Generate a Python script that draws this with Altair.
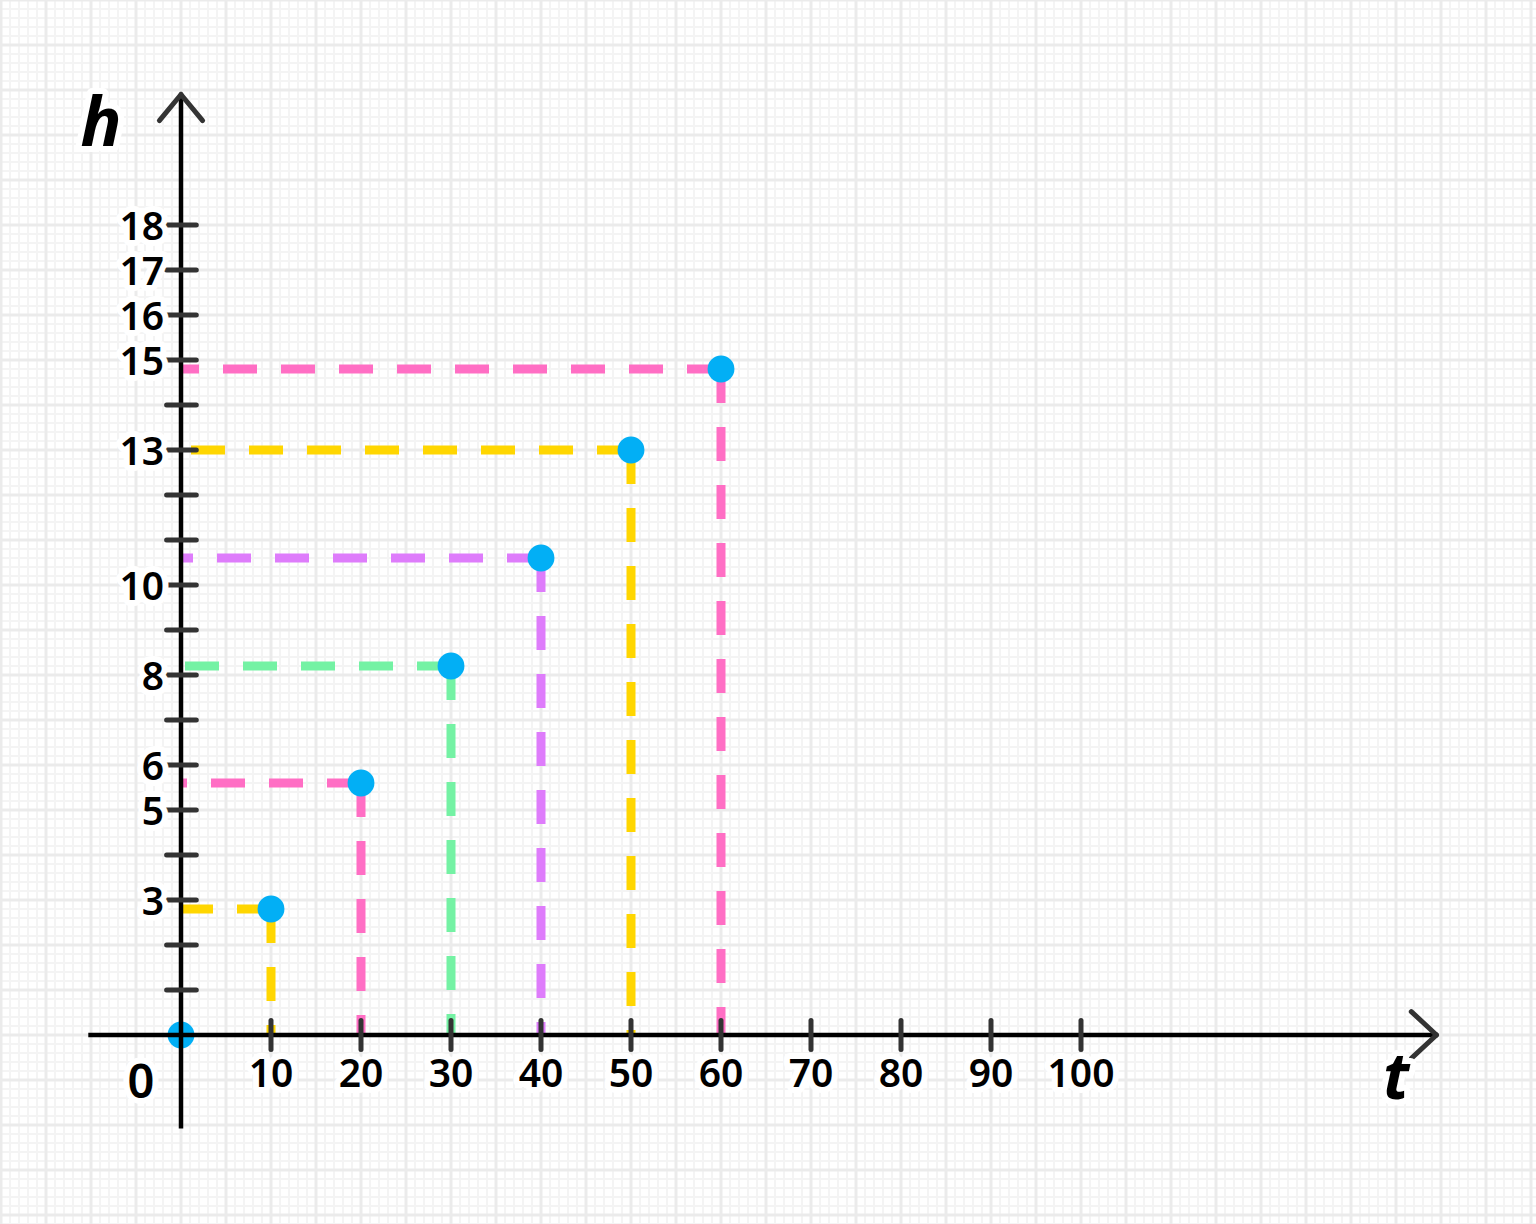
import altair as alt
import pandas as pd
import numpy as np

# ---- data ----
t_vals = [0, 10, 20, 30, 40, 50, 60]
h_vals = [0, 2.8, 5.6, 8.2, 10.6, 13.0, 14.8]
guide_colors = ["", "#FFD600", "#FF6EC4", "#74F2A4", "#DE7CFB", "#FFD600", "#FF6EC4"]

x_tick_vals = [10, 20, 30, 40, 50, 60, 70, 80, 90, 100]
x_tick_labels = ["10", "20", "30", "40", "50", "60", "70", "80", "90", "100"]
y_tick_vals = list(range(1, 19))
y_label_vals = [3, 5, 6, 8, 10, 13, 15, 16, 17, 18]
y_label_text = ["3", "5", "6", "8", "10", "13", "15", "16", "17", "18"]

# axis extents (data units)
t_axis_start, t_axis_end = -10.3, 139.5
h_axis_start, h_axis_end = -2.08, 20.9

W, H = 1536, 1224
x_dom = [-181 / 9, (W - 181) / 9]
y_dom = [(1035 - H) / 45, 1035 / 45]
xs = alt.Scale(domain=x_dom, nice=False, zero=False)
ys = alt.Scale(domain=y_dom, nice=False, zero=False)

def X(f, **kw):
    return alt.X(f, type="quantitative", scale=xs, axis=None, **kw)

def Y(f, **kw):
    return alt.Y(f, type="quantitative", scale=ys, axis=None, **kw)

# ---- background graph paper ----
maj_t = np.arange(-20, 155, 5)
min_t = [v for v in np.arange(-20, 151, 1) if v % 5 != 0]
maj_h = np.arange(-4, 24, 1)
min_h = [round(v, 2) for v in np.arange(-4.2, 23.01, 0.2) if abs(v - round(v)) > 1e-6]

g_min_v = alt.Chart(pd.DataFrame({"t": min_t})).mark_rule(color="#f4f4f4", strokeWidth=2).encode(x=X("t"))
g_min_h = alt.Chart(pd.DataFrame({"h": min_h})).mark_rule(color="#f4f4f4", strokeWidth=2).encode(y=Y("h"))
g_maj_v = alt.Chart(pd.DataFrame({"t": maj_t})).mark_rule(color="#ebebeb", strokeWidth=3).encode(x=X("t"))
g_maj_h = alt.Chart(pd.DataFrame({"h": maj_h})).mark_rule(color="#ebebeb", strokeWidth=3).encode(y=Y("h"))

# ---- dashed guide lines ----
pts = pd.DataFrame({"t": t_vals, "h": h_vals, "c": guide_colors})
guides = pts[pts["c"] != ""].copy()
guides["zero"] = 0.0

dash_kw = dict(strokeWidth=9, strokeDash=[34, 24], strokeCap="butt")
hor = alt.Chart(guides).mark_rule(**dash_kw).encode(
    x=X("t"), x2="zero", y=Y("h"), y2="h", color=alt.Color("c:N", scale=None)
)
ver = alt.Chart(guides).mark_rule(**dash_kw).encode(
    x=X("t"), x2="t", y=Y("h"), y2="zero", color=alt.Color("c:N", scale=None)
)

points = alt.Chart(pts).mark_point(filled=True, shape="circle", size=720, color="#02AFF5", opacity=1).encode(
    x=X("t"), y=Y("h")
)

# ---- axes ----
axes_df = pd.DataFrame({
    "x1": [t_axis_start, 0.0], "x2": [t_axis_end, 0.0],
    "y1": [0.0, h_axis_start], "y2": [0.0, h_axis_end],
})
axes = alt.Chart(axes_df).mark_rule(color="#000000", strokeWidth=4.5).encode(
    x=X("x1"), x2="x2", y=Y("y1"), y2="y2"
)

arm_t, arm_h = 2.4, 0.58      # y arrow arms (data units)
arm_t2, arm_h2 = 2.8, 0.52    # x arrow arms
arrows_df = pd.DataFrame({
    "x1": [0.0, 0.0, t_axis_end, t_axis_end],
    "y1": [h_axis_end, h_axis_end, 0.0, 0.0],
    "x2": [-arm_t, arm_t, t_axis_end - arm_t2, t_axis_end - arm_t2],
    "y2": [h_axis_end - arm_h, h_axis_end - arm_h, arm_h2, -arm_h2],
})
arrows = alt.Chart(arrows_df).mark_rule(color="#333333", strokeWidth=5, strokeCap="round").encode(
    x=X("x1"), x2="x2", y=Y("y1"), y2="y2"
)

ytick_df = pd.DataFrame({"h": y_tick_vals, "a": -1.6, "b": 1.7})
yticks = alt.Chart(ytick_df).mark_rule(color="#333333", strokeWidth=5, strokeCap="round").encode(
    x=X("a"), x2="b", y=Y("h")
)
xtick_df = pd.DataFrame({"t": x_tick_vals, "a": -0.32, "b": 0.32})
xticks = alt.Chart(xtick_df).mark_rule(color="#333333", strokeWidth=5, strokeCap="round").encode(
    x=X("t"), y=Y("a"), y2="b"
)

# ---- labels with white halo ----
FONT = "Noto Sans"

def halo_text(df, xf, yf, tf, size, weight=600, style="normal", **kw):
    base = alt.Chart(df)
    enc = dict(x=xf, y=yf, text=tf)
    under = base.mark_text(fontSize=size, font=FONT, fontWeight=weight, fontStyle=style,
                           stroke="white", strokeWidth=12, strokeJoin="round", fill="white", **kw).encode(**enc)
    over = base.mark_text(fontSize=size, font=FONT, fontWeight=weight, fontStyle=style,
                          fill="#000000", **kw).encode(**enc)
    return under + over

ylab_df = pd.DataFrame({"h": y_label_vals, "txt": y_label_text, "z": 0.0})
ylabels = halo_text(ylab_df, X("z"), Y("h"), "txt:N", 39, align="right", baseline="middle", dx=-17, dy=3)

xlab_df = pd.DataFrame({"t": x_tick_vals, "txt": x_tick_labels, "z": 0.0})
xlabels = halo_text(xlab_df, X("t"), Y("z"), "txt:N", 39, align="center", baseline="middle", dy=40)

zero_df = pd.DataFrame({"t": [0.0], "h": [0.0], "txt": ["0"]})
zerolab = halo_text(zero_df, X("t"), Y("h"), "txt:N", 47, align="center", baseline="middle", dx=-40, dy=49)

name_df = pd.DataFrame({"txt": ["h"]})
hlab = halo_text(name_df, alt.value(101), alt.value(126), "txt:N", 68, weight="bold", style="italic",
                 align="center", baseline="middle")
name_df2 = pd.DataFrame({"txt": ["t"]})
tlab = halo_text(name_df2, alt.value(1396), alt.value(1080), "txt:N", 64, weight="bold", style="italic",
                 align="center", baseline="middle")

chart = alt.layer(
    g_min_v, g_min_h, g_maj_v, g_maj_h,
    hor, ver, points,
    axes, arrows, yticks, xticks,
    ylabels, xlabels, zerolab, hlab, tlab,
).properties(
    width=W, height=H, padding=0, autosize=alt.AutoSizeParams(type="none"), background="white"
).configure_view(stroke=None)

chart.save("out.html", embed_options={"renderer": "svg", "actions": False})
